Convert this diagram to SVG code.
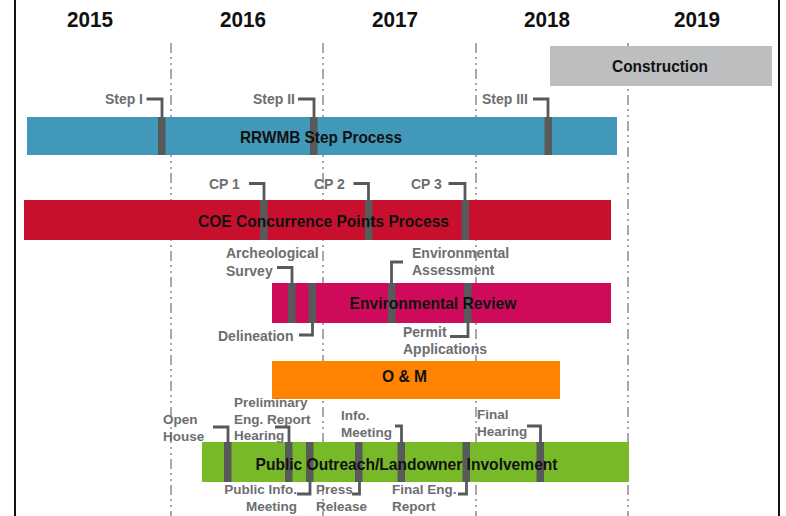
<svg xmlns="http://www.w3.org/2000/svg" width="786" height="516" viewBox="0 0 786 516">
<defs>
<style>
.year{font-family:"Liberation Sans",Arial,sans-serif;font-weight:bold;font-size:22px;fill:#111;text-anchor:middle}
.bt{font-family:"Liberation Sans",Arial,sans-serif;font-weight:bold;font-size:17px;fill:#111;text-anchor:middle}
.lb{font-family:"Liberation Sans",Arial,sans-serif;font-weight:bold;font-size:14px;fill:#6d6e71}
.ls{font-family:"Liberation Sans",Arial,sans-serif;font-weight:bold;font-size:13.5px;fill:#6d6e71}
.end{text-anchor:end}
.grid{stroke:#8a8a8a;stroke-width:1.5;stroke-dasharray:10 4 2 4 2 4;fill:none}
.mk{fill:#58595b}
.br{stroke:#58595b;stroke-width:2.8;fill:none}
</style>
</defs>
<rect width="786" height="516" fill="#fff"/>
<g id="frame">
<line x1="15" y1="0" x2="15" y2="516" stroke="#111" stroke-width="2"/>
<line x1="779" y1="0" x2="779" y2="516" stroke="#111" stroke-width="2"/>
</g>
<g id="grid">
<line class="grid" x1="171" y1="43" x2="171" y2="516"/>
<line class="grid" x1="323" y1="43" x2="323" y2="516"/>
<line class="grid" x1="476" y1="43" x2="476" y2="516"/>
<line class="grid" x1="628" y1="43" x2="628" y2="516"/>
</g>
<g id="years">
<text class="year" x="90" y="27" textLength="46" lengthAdjust="spacingAndGlyphs">2015</text>
<text class="year" x="243" y="27" textLength="46" lengthAdjust="spacingAndGlyphs">2016</text>
<text class="year" x="395" y="27" textLength="46" lengthAdjust="spacingAndGlyphs">2017</text>
<text class="year" x="547" y="27" textLength="46" lengthAdjust="spacingAndGlyphs">2018</text>
<text class="year" x="697" y="27" textLength="46" lengthAdjust="spacingAndGlyphs">2019</text>
</g>
<g id="construction">
<rect x="550" y="46" width="222" height="40" fill="#bcbec0"/>
<text class="bt" x="660" y="72" textLength="96" lengthAdjust="spacingAndGlyphs">Construction</text>
</g>
<g id="rrwmb">
<rect x="27" y="117" width="590" height="38" fill="#4298b8"/>
<rect class="mk" x="158" y="117" width="7.5" height="38"/>
<rect class="mk" x="310" y="117" width="7.5" height="38"/>
<rect class="mk" x="544.5" y="117" width="7.5" height="38"/>
<text class="bt" x="321" y="143" textLength="162" lengthAdjust="spacingAndGlyphs">RRWMB Step Process</text>
<text class="lb end" x="143" y="104">Step I</text>
<text class="lb end" x="295" y="104">Step II</text>
<text class="lb" x="482" y="104">Step III</text>
</g>
<g id="coe">
<rect x="24" y="200" width="587" height="40" fill="#c8102e"/>
<rect class="mk" x="260" y="200" width="7.5" height="40"/>
<rect class="mk" x="365" y="200" width="7.5" height="40"/>
<rect class="mk" x="461.5" y="200" width="7.5" height="40"/>
<text class="bt" x="323.5" y="227" textLength="251" lengthAdjust="spacingAndGlyphs">COE Concurrence Points Process</text>
<text class="lb" x="209" y="188.5">CP 1</text>
<text class="lb" x="314" y="188.5">CP 2</text>
<text class="lb" x="411" y="188.5">CP 3</text>
</g>
<g id="environmental-review">
<rect x="272" y="283" width="339" height="40" fill="#cf0a5a"/>
<rect class="mk" x="288" y="283" width="7.5" height="40"/>
<rect class="mk" x="308.5" y="283" width="7.5" height="40"/>
<rect class="mk" x="388" y="283" width="7.5" height="40"/>
<rect class="mk" x="464" y="283" width="7.5" height="40"/>
<text class="bt" x="433" y="308.5" textLength="167" lengthAdjust="spacingAndGlyphs">Environmental Review</text>
<text class="lb" x="226" y="258">Archeological</text>
<text class="lb" x="226" y="276">Survey</text>
<text class="lb" x="412" y="258">Environmental</text>
<text class="lb" x="412" y="275">Assessment</text>
<text class="lb" x="218" y="340.5">Delineation</text>
<text class="lb" x="403" y="337">Permit</text>
<text class="lb" x="403" y="354">Applications</text>
</g>
<g id="om">
<rect x="272" y="361" width="288" height="38" fill="#ff8200"/>
<text class="bt" x="404.5" y="382" textLength="45" lengthAdjust="spacingAndGlyphs">O &amp; M</text>
</g>
<g id="public-outreach">
<rect x="202" y="442" width="427" height="40" fill="#78b928"/>
<rect class="mk" x="224" y="442" width="7.5" height="40"/>
<rect class="mk" x="285" y="442" width="7.5" height="40"/>
<rect class="mk" x="306" y="442" width="7.5" height="40"/>
<rect class="mk" x="355" y="442" width="7.5" height="40"/>
<rect class="mk" x="397.5" y="442" width="7.5" height="40"/>
<rect class="mk" x="462.5" y="442" width="7.5" height="40"/>
<rect class="mk" x="536.5" y="442" width="7.5" height="40"/>
<text class="bt" x="406.5" y="470" textLength="302" lengthAdjust="spacingAndGlyphs">Public Outreach/Landowner Involvement</text>
<text class="ls" x="163" y="423.5">Open</text>
<text class="ls" x="163" y="441">House</text>
<text class="ls" x="234" y="407">Preliminary</text>
<text class="ls" x="234" y="423.5">Eng. Report</text>
<text class="ls" x="234" y="439.5">Hearing</text>
<text class="ls" x="341" y="420">Info.</text>
<text class="ls" x="341" y="437">Meeting</text>
<text class="ls" x="477" y="418.5">Final</text>
<text class="ls" x="477" y="436">Hearing</text>
<text class="ls end" x="297" y="494">Public Info.</text>
<text class="ls end" x="297" y="510.5">Meeting</text>
<text class="ls" x="316" y="494">Press</text>
<text class="ls" x="316" y="510.5">Release</text>
<text class="ls" x="392" y="494">Final Eng.</text>
<text class="ls" x="392" y="510.5">Report</text>
</g>
<g id="connectors">
<polyline class="br" points="146.5,99 162,99 162,117"/>
<polyline class="br" points="298,99 314,99 314,117"/>
<polyline class="br" points="533,99 548,99 548,117"/>
<polyline class="br" points="249,183.5 264,183.5 264,200"/>
<polyline class="br" points="353.5,183.5 368.5,183.5 368.5,200"/>
<polyline class="br" points="448.5,183.5 465,183.5 465,200"/>
<polyline class="br" points="277,267.5 292,267.5 292,283"/>
<polyline class="br" points="299,335 312.5,335 312.5,323"/>
<polyline class="br" points="403,262 391.5,262 391.5,283"/>
<polyline class="br" points="450,336.5 468,336.5 468,323"/>
<polyline class="br" points="213,427 228,427 228,442"/>
<polyline class="br" points="275,427 289,427 289,442"/>
<polyline class="br" points="297,494 310,494 310,482"/>
<polyline class="br" points="352,494 359.5,494 359.5,482"/>
<polyline class="br" points="395,426 401.5,426 401.5,442"/>
<polyline class="br" points="458,494 466.5,494 466.5,482"/>
<polyline class="br" points="527,426 540.5,426 540.5,442"/>
</g>
</svg>
